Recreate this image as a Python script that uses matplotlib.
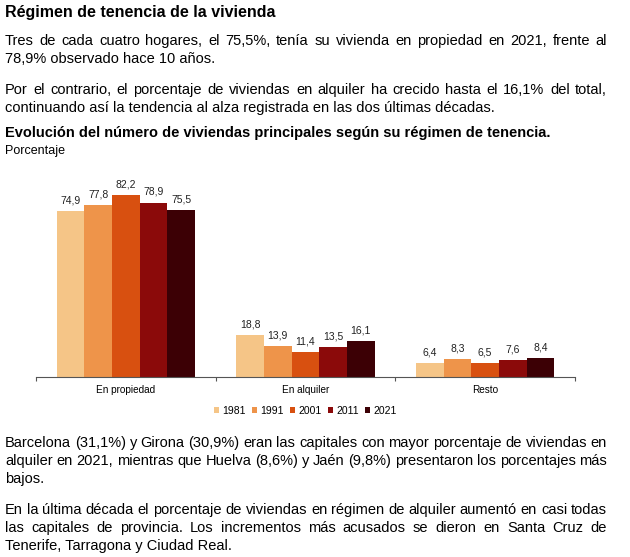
import numpy as np
import matplotlib.pyplot as plt

plt.rcParams["font.family"] = ["Liberation Sans", "DejaVu Sans"]

categorias = ["En propiedad", "En alquiler", "Resto"]
anios = ["1981", "1991", "2001", "2011", "2021"]
valores = {
    "1981": [74.9, 18.8, 6.4],
    "1991": [77.8, 13.9, 8.3],
    "2001": [82.2, 11.4, 6.5],
    "2011": [78.9, 13.5, 7.6],
    "2021": [75.5, 16.1, 8.4],
}
colores = ["#F5C587", "#EE944A", "#D85010", "#8B0A0A", "#3C0005"]

titulo = "Régimen de tenencia de la vivienda"
parrafos_sup = [
    ["Tres de cada cuatro hogares, el 75,5%, tenía su vivienda en propiedad en 2021, frente al",
     "78,9% observado hace 10 años."],
    ["Por el contrario, el porcentaje de viviendas en alquiler ha crecido hasta el 16,1% del total,",
     "continuando así la tendencia al alza registrada en las dos últimas décadas."],
]
titulo_graf = "Evolución del número de viviendas principales según su régimen de tenencia."
subtitulo = "Porcentaje"
parrafos_inf = [
    ["Barcelona (31,1%) y Girona (30,9%) eran las capitales con mayor porcentaje de viviendas en",
     "alquiler en 2021, mientras que Huelva (8,6%) y Jaén (9,8%) presentaron los porcentajes más",
     "bajos."],
    ["En la última década el porcentaje de viviendas en régimen de alquiler aumentó en casi todas",
     "las capitales de provincia. Los incrementos más acusados se dieron en Santa Cruz de",
     "Tenerife, Tarragona y Ciudad Real."],
]

W, H = 630, 557
fig = plt.figure(figsize=(W / 100, H / 100), dpi=100)
renderer = fig.canvas.get_renderer()


def fy(py):
    return 1 - py / H


def linea_justificada(texto, py, x0=5, x1=607, size=10.5):
    palabras = texto.split(" ")
    objs = [fig.text(0, fy(py), p, fontsize=size, va="center") for p in palabras]
    anchos = [o.get_window_extent(renderer).width for o in objs]
    hueco = (x1 - x0 - sum(anchos)) / (len(palabras) - 1)
    xp = x0
    for o, a in zip(objs, anchos):
        o.set_x(xp / W)
        xp += a + hueco


def parrafos(lista, y):
    for par in lista:
        for k, linea in enumerate(par):
            if k < len(par) - 1:
                linea_justificada(linea, y)
            else:
                fig.text(5 / W, fy(y), linea, fontsize=10.5, va="center")
            y += 18
        y += 13


fig.text(5 / W, fy(12), titulo, fontsize=11.5, fontweight="bold", va="center")
parrafos(parrafos_sup, 41)
fig.text(5 / W, fy(133), titulo_graf, fontsize=10.5, fontweight="bold", va="center")
fig.text(5 / W, fy(151), subtitulo, fontsize=9, va="center")
parrafos(parrafos_inf, 443)

# grafico
ax = fig.add_axes([36 / W, (H - 377) / H, 539 / W, 199 / H])
x = np.arange(len(categorias))
ancho = 0.154
for i, (anio, color) in enumerate(zip(anios, colores)):
    pos = x + (i - 2) * ancho
    barras = ax.bar(pos, valores[anio], width=ancho, color=color,
                    label=anio, edgecolor="none")
    etiquetas = [f"{v:.1f}".replace(".", ",") for v in valores[anio]]
    ax.bar_label(barras, labels=etiquetas, padding=4, fontsize=7.5, color="#222222")

ax.set_xlim(-0.5, 2.5)
ax.set_ylim(0, 90)
ax.set_yticks([])
for lado in ["top", "right", "left"]:
    ax.spines[lado].set_visible(False)
ax.spines["bottom"].set_color("#555555")
ax.spines["bottom"].set_linewidth(0.8)
ax.set_xticks(x)
ax.set_xticklabels(categorias, fontsize=7.2)
ax.tick_params(axis="x", which="major", length=0, pad=6)
ax.set_xticks([-0.5, 0.5, 1.5, 2.5], minor=True)
ax.tick_params(axis="x", which="minor", length=3, color="#555555", width=0.8)

ax.legend(loc="center", bbox_to_anchor=(0.5, (377 - 411) / 199), ncol=5,
          frameon=False, fontsize=7.5, handlelength=0.5, handleheight=0.5,
          handletextpad=0.3, columnspacing=0.6)

fig.savefig("out.png", dpi=100)
